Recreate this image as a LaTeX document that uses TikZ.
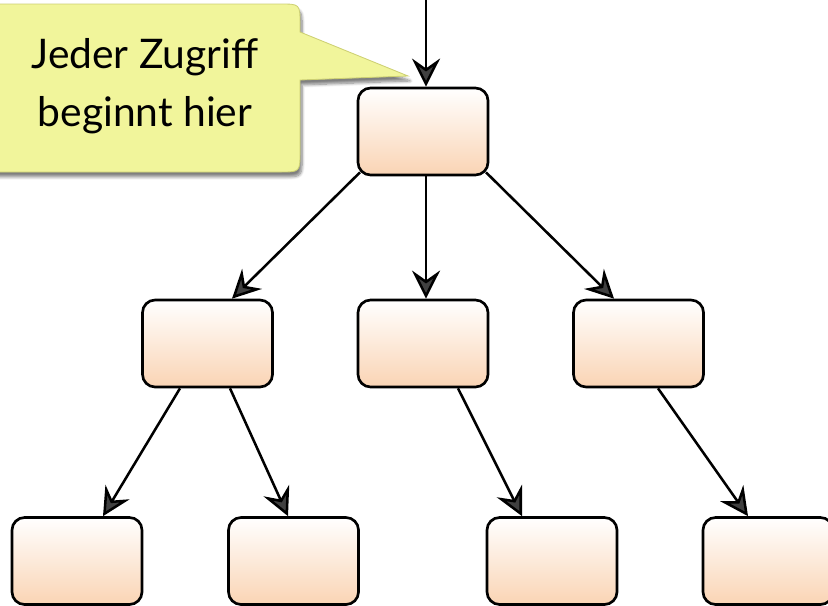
\documentclass[tikz,border=0pt]{standalone}
\usepackage{fontspec}
\setmainfont{Lato}
\usetikzlibrary{arrows.meta,shadows.blur}
\definecolor{pfirsich}{RGB}{250,212,180}
\definecolor{gelb}{RGB}{241,245,155}
\definecolor{gelbrand}{RGB}{205,208,115}
\tikzstyle{knoten}=[draw,rounded corners=9pt,line width=1.9pt,minimum width=3.25cm,minimum height=2.175cm,inner sep=0pt,top color=white,middle color=pfirsich!35!white,bottom color=pfirsich]
\tikzstyle{kante}=[draw,line width=1.8pt,-{Stealth[length=20pt,width=20pt,inset=7pt]}]
\tikzstyle{blase}=[fill=gelb,draw=gelbrand,line width=0.6pt,blur shadow={shadow xshift=1.5pt,shadow yshift=-3.5pt,shadow opacity=50,shadow blur steps=8}]

\begin{document}
\begin{tikzpicture}[x=0.025cm,y=-0.025cm]
    \useasboundingbox (0,0) rectangle (828,605);

    % Sprechblase
    \path[blase] (-30,4) -- (280,4) .. controls (300,4) .. (300,24) -- (300,32) -- (408,76) -- (300,80) -- (300,152) .. controls (300,172) .. (280,172) -- (-30,172) -- cycle;
    \node[align=center,font=\fontsize{29pt}{41pt}\selectfont] (hinweis) at (145,86) {Jeder Zugriff\\beginnt hier};

    % Baum
    \foreach \x/\y/\name in {423/131.5/root, 207.5/343.5/l, 423/343.5/m, 638.5/343.5/r, 77/561/ll, 293.5/561/lr, 552/561/mc, 768/561/rc}
        \node[knoten] (\name) at (\x,\y) {};

    \coordinate (eingang) at (426,-5);
    \path[kante] (eingang) -- ([xshift=3*0.025cm]root.north);

    \foreach \source/\sx/\sy/\dest/\dx in {root/-63/-4/l/24.5, root/3/0/m/3, root/63/-4/r/-24.5, l/-27.5/0/ll/26, l/22.5/0/lr/-5.5, m/35/0/mc/-30, r/19.5/0/rc/-20}
        \path[kante] ([shift={(\sx,\sy)}]\source.south) -- ([shift={(\dx,0)}]\dest.north);

\end{tikzpicture}
\end{document}
